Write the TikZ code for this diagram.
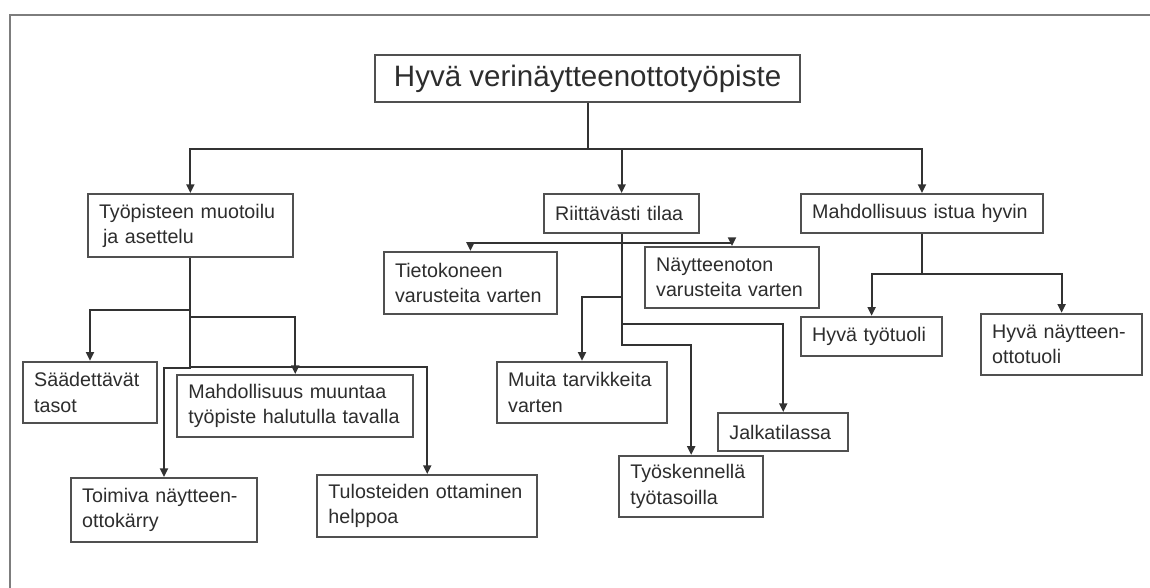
\documentclass[tikz,border=0pt]{standalone}
\usepackage{fontspec}
\setmainfont{Liberation Sans}
\usetikzlibrary{arrows.meta, calc}
\definecolor{linecolor}{RGB}{50,50,50}
\definecolor{boxcolor}{RGB}{80,80,80}
\definecolor{textcolor}{RGB}{45,45,45}
\definecolor{framecolor}{RGB}{125,125,125}

\begin{document}
\begin{tikzpicture}[
    itembox/.style={draw=boxcolor, line width=1.3pt, text=textcolor, fill=white,
        font=\fontsize{14}{18}\selectfont, align=left, inner xsep=0.28cm, inner ysep=0pt},
    titlebox/.style={draw=boxcolor, line width=1.3pt, text=textcolor, fill=white,
        font=\fontsize{21}{25}\selectfont, align=center, inner sep=0pt},
    link/.style={-{Triangle[length=2.2mm, width=2mm]}, line width=1.4pt, linecolor}
]
    \useasboundingbox (0,0) rectangle (28.75,14.7);

    % Cadre
    \draw[framecolor, line width=1.2pt] (28.75,14.33) -- (0.25,14.33) -- (0.25,0);

    % Titre
    \node[titlebox, minimum width=10.63cm, minimum height=1.18cm] (root) at (14.69,12.74) {Hyvä verinäytteenottotyöpiste};

    % === Niveau 1 ===
    \node[itembox, text width=4.57cm, minimum height=1.58cm] (tyo) at (4.76,9.06) {Työpisteen muotoilu\\\hspace*{0.1cm}ja asettelu};
    \node[itembox, text width=3.32cm, minimum height=0.98cm] (tila) at (15.54,9.36) {Riittävästi tilaa};
    \node[itembox, text width=5.49cm, minimum height=0.98cm] (istua) at (23.05,9.36) {Mahdollisuus istua hyvin};

    \draw[link] (root.south) -- ++(0,-1.15) -| (tyo.north);
    \draw[link] (root.south) -- ++(0,-1.15) -| (tila.north);
    \draw[link] (root.south) -- ++(0,-1.15) -| (istua.north);

    % === Työpisteen muotoilu ===
    \node[itembox, text width=2.79cm, minimum height=1.53cm] (saad) at (2.25,4.89) {Säädettävät\\tasot};
    \node[itembox, text width=5.34cm, minimum height=1.55cm] (muunt) at (7.38,4.55) {Mahdollisuus muuntaa\\työpiste halutulla tavalla};
    \node[itembox, text width=4.09cm, minimum height=1.6cm] (karry) at (4.1,1.95) {Toimiva näytteen-\\ottokärry};
    \node[itembox, text width=4.94cm, minimum height=1.55cm] (tulos) at (10.68,2.05) {Tulosteiden ottaminen\\helppoa};

    \draw[link] (tyo.south) -- ++(0,-1.3) -| (saad.north);
    \draw[link] (tyo.south) -- ++(0,-1.48) -| (muunt.north);
    \draw[link] (tyo.south) -- ++(0,-2.75) -| (karry.north);
    \draw[link] (tyo.south) -- ++(0,-2.72) -| (tulos.north);

    % === Riittävästi tilaa ===
    \node[itembox, text width=3.77cm, minimum height=1.55cm] (tieto) at (11.76,7.63) {Tietokoneen\\varusteita varten};
    \node[itembox, text width=3.79cm, minimum height=1.53cm] (naytt) at (18.3,7.76) {Näytteenoton\\varusteita varten};
    \node[itembox, text width=3.69cm, minimum height=1.53cm] (muita) at (14.55,4.89) {Muita tarvikkeita\\varten};
    \node[itembox, text width=2.69cm, minimum height=0.95cm] (jalka) at (19.58,3.9) {Jalkatilassa};
    \node[itembox, text width=3.04cm, minimum height=1.53cm] (tyosk) at (17.28,2.54) {Työskennellä\\työtasoilla};

    \draw[link] (tila.south) -- ++(0,-0.23) -| (tieto.north);
    \draw[link] (tila.south) -- ++(0,-0.23) -| (naytt.north);
    \draw[link] (tila.south) -- ++(0,-1.58) -| (muita.north);
    \draw[link] (tila.south) -- ++(0,-2.25) -| (jalka.north);
    \draw[link] (tila.south) -- ++(0,-2.78) -| (tyosk.north);

    % === Mahdollisuus istua hyvin ===
    \node[itembox, text width=2.97cm, minimum height=0.98cm] (tuoli) at (21.79,6.29) {Hyvä työtuoli};
    \node[itembox, text width=3.47cm, minimum height=1.53cm] (ntuoli) at (26.54,6.09) {Hyvä näytteen-\\ottotuoli};

    \draw[link] (istua.south) -- ++(0,-1.0) -| (tuoli.north);
    \draw[link] (istua.south) -- ++(0,-1.0) -| (ntuoli.north);
\end{tikzpicture}
\end{document}
